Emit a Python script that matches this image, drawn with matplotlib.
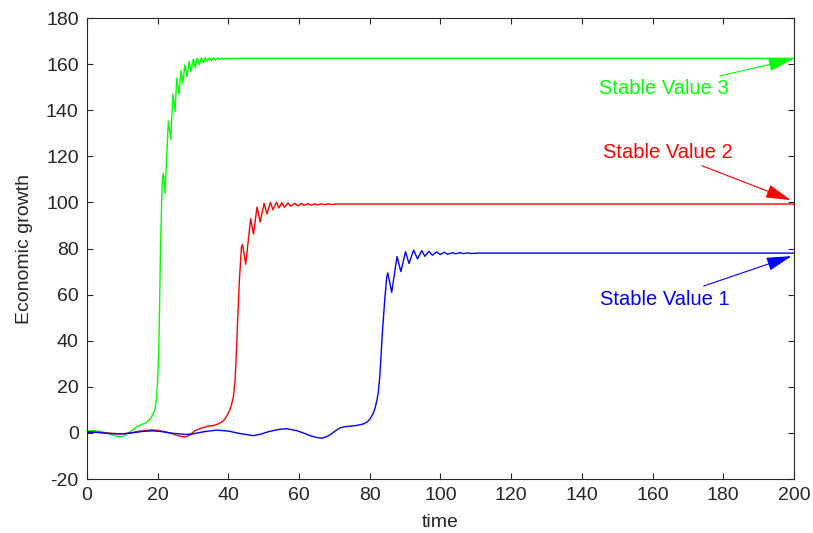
import matplotlib
matplotlib.use("Agg")
import matplotlib.pyplot as plt

plt.rcParams['font.family'] = ['Liberation Sans', 'DejaVu Sans']
plt.rcParams['axes.unicode_minus'] = False

# curve 3 (green)
t_green = [0, 2, 4, 6, 8, 9.8, 10.5, 11, 12, 13, 13.6, 14.8, 15.9, 16.8, 17.5, 18.2, 18.8, 19.2,
           19.6, 20.0, 20.3, 20.5, 20.8, 21.3,
           21.6, 22.1, 23.0, 23.7, 24.3, 24.9, 25.4, 26.0, 26.6, 27.1, 27.7, 28.3, 28.9, 29.4,
           30.1, 30.6, 31.2, 31.8, 32.35, 32.9, 33.5, 34.05, 34.65, 35.2, 35.8, 36.35, 36.95,
           37.5, 38.1, 38.65, 39.25, 39.8, 40.4, 41.0, 41.55, 43, 200]
y_green = [0.8, 1.0, 0.6, -0.3, -1.3, -1.7, -1.4, -0.8, 0.2, 1.4, 2.2, 3.2, 3.9, 4.5, 5.5, 6.7, 8.5, 10,
           14, 22.7, 36, 51.7, 80.7, 109.7,
           112.6, 104, 135.3, 127.4, 147, 139.4, 153.9, 147, 157.1, 151.7, 159.7, 154.6, 161.1, 156.8,
           162.2, 158.5, 162.6, 159.7, 162.8, 160.6, 162.8, 161.1, 162.8, 161.5, 162.7, 161.8, 162.7,
           162.0, 162.65, 162.2, 162.6, 162.3, 162.55, 162.4, 162.5, 162.5, 162.5]

# curve 2 (red)
t_red = [0, 3, 6, 9.8, 12, 15, 18.3, 20, 22, 24, 25.5, 27.5, 28.5, 29.5, 30.6, 32.5, 34.3, 36,
         37.1, 38.2, 39, 39.8, 40.5, 41.0, 41.4, 41.9, 42.2, 42.5, 43.1, 43.7,
         44.0, 44.9, 46.3, 47.1, 48.1, 49.0, 50.1, 50.9, 51.9, 52.6, 53.6, 54.3,
         55.1, 55.8, 56.9, 57.6, 58.8, 59.6, 60.7, 61.4, 62.6, 63.3, 64.5, 65.2, 66.4, 67.1, 68.3,
         69.0, 70.5, 200]
y_red = [0.5, 0.3, -0.1, -0.4, -0.1, 0.8, 1.3, 1.1, 0.5, -0.3, -1.1, -1.8, -1.4, -0.4, 1.0, 2.2, 2.9, 3.3,
         3.9, 4.8, 6, 8, 10.4, 13, 15.5, 22.7, 33, 44.5, 66, 80.7,
         81.7, 73.2, 93, 86.2, 98, 91.5, 99.6, 95.0, 100.0, 96.8, 100.1, 97.6,
         99.9, 97.9, 99.8, 98.4, 99.6, 98.5, 99.6, 98.7, 99.5, 98.8, 99.4, 98.9, 99.4, 99.0, 99.4,
         99.1, 99.3, 99.3]

# curve 1 (blue)
t_blue = [0, 2, 5, 8, 10.3, 13, 16, 18.5, 21, 24, 28, 30, 33, 36.7, 40, 43, 47, 49, 51.5, 54.6,
          56.5, 59.3, 61.5, 63.1, 65, 66.4, 67.5, 68.7, 70, 71.6, 73, 74.4, 76.5, 78.2, 79.3, 80.1,
          80.9, 81.5, 82.0, 82.4, 82.8, 83.1, 83.6, 84.3, 84.8,
          85.1, 86.2, 87.7, 88.8, 90.1, 91.1, 92.4, 93.5, 94.7, 95.6, 96.7, 97.7, 98.9, 99.9,
          101.1, 102.0, 103.4, 104.3, 105.5, 106.5, 107.8, 108.7, 110.5, 200]
y_blue = [0.3, 0.3, -0.1, -0.4, -0.4, 0.1, 0.7, 0.9, 0.6, -0.1, -0.7, -0.4, 0.5, 1.2, 0.8, -0.2, -1.2, -0.6, 0.6, 1.6,
          1.8, 1.0, -0.2, -1.2, -2.0, -2.3, -1.8, -0.9, 0.6, 2.2, 2.7, 2.9, 3.3, 3.9, 4.8, 6.1,
          8.3, 10.8, 14, 17.5, 24, 31.4, 44.5, 59, 67.7,
          69.4, 61.0, 76.5, 70.0, 78.6, 73.5, 79.3, 75.5, 79.1, 76.6, 78.8, 77.1, 78.5, 77.4,
          78.4, 77.5, 78.2, 77.7, 78.2, 77.8, 78.1, 77.8, 78.0, 78.0]

# annotations: label, text position, arrow tip, colour
labels = ["Stable Value 3", "Stable Value 2", "Stable Value 1"]
text_xy = [(163.2, 149.3), (164.2, 121.7), (163.5, 58)]
tip_xy = [(199.8, 162.2), (199.1, 101), (199.3, 76.7)]
colors = ["#00ff00", "#ff0000", "#0000ff"]

fig = plt.figure(figsize=(8.13, 5.33), dpi=100)
ax = fig.add_axes([0.107, 0.1013, 0.8696, 0.8649])

ax.plot(t_green, y_green, color="#00ff00", lw=1.0)
ax.plot(t_red, y_red, color="#ff0000", lw=1.0)
ax.plot(t_blue, y_blue, color="#0000ff", lw=1.0)

for lab, txy, tip, c in zip(labels, text_xy, tip_xy, colors):
    ax.annotate(lab, xy=tip, xytext=txy, color=c, fontsize=14.5,
                ha="center", va="center",
                arrowprops=dict(arrowstyle="-|>,head_length=1.3,head_width=0.35",
                                mutation_scale=12, color=c, lw=0.8,
                                shrinkA=2, shrinkB=0))

ax.set_xlim(0, 200)
ax.set_ylim(-20, 180)
ax.set_xticks(range(0, 201, 20))
ax.set_yticks(range(-20, 181, 20))
ax.tick_params(direction="in", length=4, width=0.8, top=True, right=True,
               labelsize=14, colors="#262626", pad=6)
for s in ax.spines.values():
    s.set_color("#262626")
    s.set_linewidth(0.8)

ax.set_xlabel("time", fontsize=14, color="#262626", labelpad=7)
ax.set_ylabel("Economic growth", fontsize=14, color="#262626", labelpad=9)

fig.savefig("out.png", dpi=100)
